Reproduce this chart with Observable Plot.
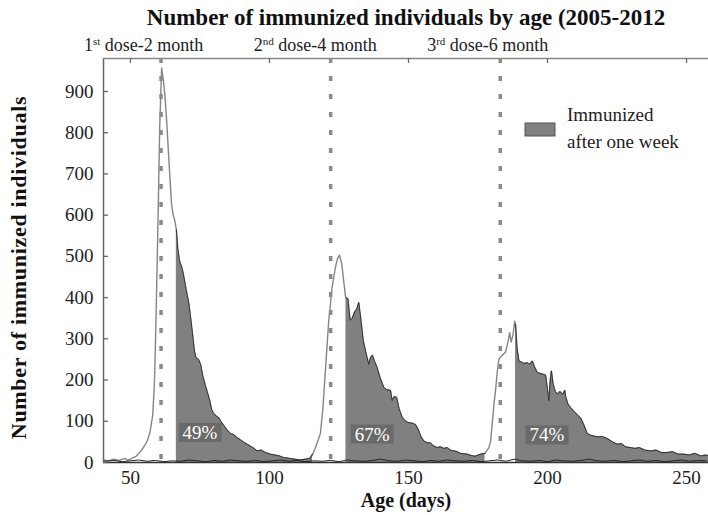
<!DOCTYPE html>
<html><head><meta charset="utf-8">
<script src="https://cdn.jsdelivr.net/npm/d3@7"></script>
<script src="https://cdn.jsdelivr.net/npm/@observablehq/plot@0.6"></script>
<style>html,body{margin:0;padding:0;background:#fff;}</style>
</head><body><div id="chart"></div>
<script>
// ---- data ----
const days = [40.5,42,44,46,48,49,50,51,52,53,54,55,56,57,58,58.6,59,59.5,60,60.5,61.2,61.8,62.4,63,63.6,64.2,64.8,65.4,66,66.5,67,67.6,68,68.6,69.2,70,71,72,73,73.5,74.5,75.2,76,77,77.6,78.5,79.2,80,81,81.8,82.5,83.5,84.8,86,87,88.4,89.5,90.5,92,93,94,95.6,97,98.5,100.4,102,103.5,105,107,109,111,113,114.5,115.5,116.2,117,118.3,119.2,120.1,121.3,122.5,123.7,124.5,125.2,126,126.7,127.3,127.5,128.2,129,129.8,130.6,131.4,132.1,132.8,133.7,134.6,135.7,136.4,137,137.8,138.7,139.8,141.1,142.3,143.5,144.1,144.9,145.7,146.6,147.7,148.6,149.5,150.5,151.5,152.5,153.5,154.5,155.5,156.7,157.9,159,160.3,161.5,162.7,163.9,165,166.3,167.5,168.7,170,171.1,172.5,174,175.9,177.5,178.9,179.5,180.2,180.7,181.3,182,182.5,183.1,184,184.9,185.7,186.4,186.9,187.6,188.2,188.5,189,189.7,190.5,191.5,192.7,193.6,194.5,195.3,196.3,197.3,198.3,199.3,200,200.5,201,201.4,202,202.8,203.5,204.5,205.5,206.2,206.5,207.3,208.3,209.5,210.8,211.9,213,214.3,215.5,216.7,218,219.5,221.5,223.3,225.1,226.5,228,229.9,231.5,233,235,237,239,241,243,245,247,249,251,253,255,257,258];
const counts = [6,4,8,5,10,6,8,12,15,22,30,40,52,72,115,190,290,450,620,810,957,930,890,830,760,690,625,600,585,565,520,490,482,470,450,420,385,330,270,255,250,238,210,185,172,150,128,118,112,108,100,90,78,70,68,60,55,50,44,40,36,28,30,24,20,18,16,12,10,8,6,8,10,20,30,45,70,130,222,343,424,473,495,503,481,440,405,400,397,345,350,365,372,388,350,296,268,238,255,260,245,230,205,182,176,175,150,160,158,130,110,102,98,96,95,92,80,62,52,48,47,40,36,38,34,36,30,28,26,22,21,20,17,15,20,22,36,50,100,140,175,225,250,256,262,268,290,315,292,310,343,335,280,246,244,240,242,238,246,232,218,216,214,212,175,150,200,222,190,172,166,172,165,175,160,142,133,124,115,108,92,70,66,64,62,63,58,50,44,46,38,36,34,36,30,28,30,24,24,26,20,20,18,22,16,18,16];
const baseDays = [40.5,44,47,50,53,56,59,62,65,68,71,74,77,80,83,86,89,92,95,98,101,104,107,110,113,116,119,122,125,128,131,134,137,140,143,146,149,152,155,158,161,164,167,170,173,176,179,182,185,188,191,194,197,200,203,206,209,212,215,218,221,224,227,230,233,236,239,242,245,248,251,254,257];
const baseCounts = [3,5,2,4,6,3,5,2,4,3,6,4,2,5,3,6,4,3,5,2,4,6,3,5,2,4,3,5,2,6,4,3,5,8,4,3,6,4,2,5,3,6,4,3,5,2,4,6,3,8,4,3,5,2,6,4,3,5,8,4,3,5,2,4,6,3,5,2,4,6,3,5,4];
const doseDays = [61, 122, 183];
const doseNum = ["1", "2", "3"];
const doseSup = ["st", "nd", "rd"];
const doseText = [" dose-2 month", " dose-4 month", " dose-6 month"];
const fillStarts = [66.5, 127.5, 188.5];
const fillEnds = [115.5, 177.5, 258];
const pctLabels = ["49%", "67%", "74%"];
const pctDays = [75, 136.9, 199.8];
const pctLevel = [72, 68, 66];
const xTicks = [50, 100, 150, 200, 250];
const yTicks = [0, 100, 200, 300, 400, 500, 600, 700, 800, 900];
const xDomain = [40.3, 257.9];
const yDomain = [0, 980];
const title = "Number of immunized individuals by age (2005-2012";
const xLabel = "Age (days)";
const yLabel = "Number of immunized individuals";
const legendLines = ["Immunized", "after one week"];

// ---- build ----
const data = days.map((d, i) => ({day: d, count: counts[i]}));
const base = baseDays.map((d, i) => ({day: d, count: baseCounts[i]}));
const region = d => fillStarts.findIndex((s, i) => d >= s && d <= fillEnds[i]);
const filled = data.filter(d => region(d.day) >= 0).map(d => ({...d, r: region(d.day)}));
const pct = pctLabels.map((t, i) => ({label: t, day: pctDays[i], v: pctLevel[i]}));
const serif = "'Liberation Serif', 'Times New Roman', serif";

const chart = Plot.plot({
  width: 708, height: 515,
  marginLeft: 103, marginRight: 0, marginTop: 58, marginBottom: 53,
  style: {fontFamily: serif, fontSize: "19px", color: "#222", background: "#fff"},
  x: {domain: xDomain},
  y: {domain: yDomain},
  marks: [
    Plot.areaY(filled, {x: "day", y: "count", z: "r", fill: "#808080", clip: true}),
    Plot.line(data, {x: "day", y: "count", stroke: "#858585", strokeWidth: 1.4, clip: true}),
    Plot.line(filled, {x: "day", y: "count", z: "r", stroke: "#333", strokeWidth: 1, clip: true}),
    Plot.line(base, {x: "day", y: "count", stroke: "#222", strokeWidth: 1, clip: true}),
    Plot.ruleX(doseDays, {stroke: "#8a8a8a", strokeWidth: 3.5, strokeDasharray: "5,13"}),
    Plot.ruleX([xDomain[0]], {stroke: "#666", strokeWidth: 1.5}),
    Plot.ruleY([yDomain[1]], {stroke: "#888", strokeWidth: 1.3}),
    Plot.ruleY([0], {stroke: "#333", strokeWidth: 1.3}),
    Plot.ruleX(xTicks, {y1: yDomain[1], y2: yDomain[1] - 12, stroke: "#666", strokeWidth: 1.3}),
    Plot.ruleY(yTicks, {x1: xDomain[0], x2: xDomain[0] + 1.8, stroke: "#666", strokeWidth: 1.3}),
    Plot.axisX({ticks: xTicks, tickSize: 0, tickPadding: 8, label: null, fill: "#222"}),
    Plot.axisY({ticks: yTicks, tickSize: 0, tickPadding: 10, label: null, fill: "#222"}),
    Plot.text(pct, {x: "day", y: "v", text: "label", fill: "white", fontSize: 19}),
    Plot.text([title], {frameAnchor: "top", lineAnchor: "middle", dy: -41, fontWeight: "bold", fontSize: 23, fill: "#111"}),
    Plot.text([xLabel], {frameAnchor: "bottom", lineAnchor: "middle", dy: 38, fontWeight: "bold", fontSize: 20, fill: "#111"}),
    Plot.text([yLabel], {frameAnchor: "left", textAnchor: "middle", lineAnchor: "middle", dx: -85, dy: 7, rotate: -90, fontWeight: "bold", fontSize: 22, fill: "#111"})
  ]
});
document.getElementById("chart").append(chart);

// boxes behind percentage labels
const svg = d3.select(chart);
svg.selectAll('g[aria-label="text"]').filter(function() { return this.getAttribute("fill") === "white"; })
  .selectAll("text").each(function() {
    const b = this.getBBox();
    d3.select(this.parentNode).insert("rect", () => this)
      .attr("transform", this.getAttribute("transform"))
      .attr("x", b.x - 4).attr("y", b.y + 1).attr("width", b.width + 8).attr("height", b.height - 2)
      .attr("fill", "#6a6a6a");
  });
// widen the rotated y label slightly to match the reference
svg.selectAll('g[aria-label="text"] text').filter(function() { return this.textContent === yLabel; })
  .attr("letter-spacing", 0.7);

// dose labels above the frame
const xs = chart.scale("x");
const offs = [-17, -15, -12];
doseDays.forEach((d, i) => {
  const t = svg.append("text").attr("x", xs.apply(d) + offs[i]).attr("y", 51)
    .attr("text-anchor", "middle").attr("font-family", serif).attr("font-size", 18).attr("fill", "#222");
  t.append("tspan").text(doseNum[i]);
  t.append("tspan").attr("font-size", 11).attr("dy", -6).text(doseSup[i]);
  t.append("tspan").attr("dy", 6).text(doseText[i]);
});

// legend
svg.append("rect").attr("x", 525).attr("y", 123).attr("width", 30).attr("height", 13)
  .attr("fill", "#808080").attr("stroke", "#555").attr("stroke-width", 1);
legendLines.forEach((l, i) => {
  svg.append("text").attr("x", 567).attr("y", 121 + i * 27).attr("text-anchor", "start")
    .attr("font-family", serif).attr("font-size", 19).attr("fill", "#222").text(l);
});
</script>
</body></html>
